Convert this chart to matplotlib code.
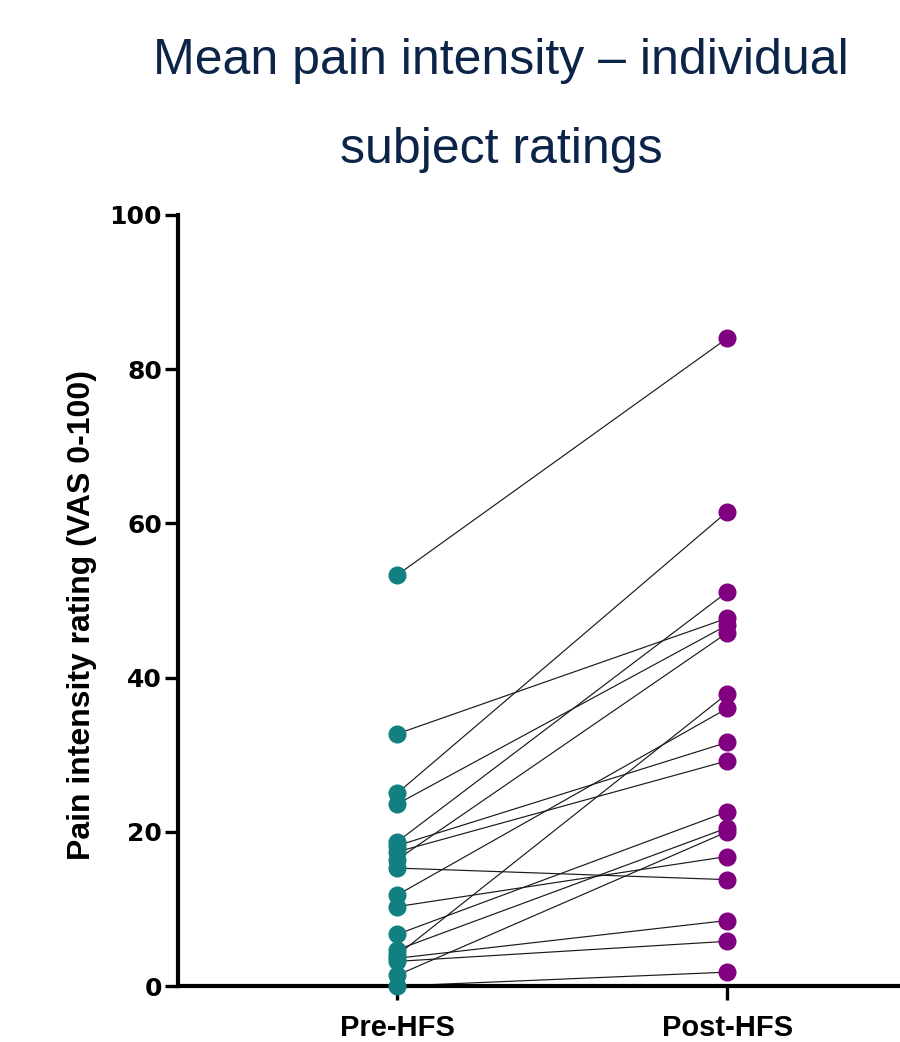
import matplotlib.pyplot as plt

groups = ["Pre-HFS", "Post-HFS"]

pre_hfs = [53.3, 32.7, 25.0, 23.6, 18.7, 18.2, 17.4, 16.4, 15.3,
           11.8, 10.3, 6.7, 4.7, 4.0, 3.6, 3.2, 1.4, 0.0]
post_hfs = [84.0, 47.7, 61.5, 46.8, 51.1, 31.6, 29.2, 45.8, 13.8,
            36.0, 16.8, 22.6, 20.5, 37.9, 8.5, 5.8, 20.0, 1.8]

y_ticks = [0, 20, 40, 60, 80, 100]

plt.rcParams['font.family'] = ['Liberation Sans', 'DejaVu Sans']

fig = plt.figure(figsize=(9, 10.42), dpi=100)
ax = fig.add_axes([0.1978, 0.0537, 0.8022, 0.74])

teal = "#128080"
purple = "#800080"

for pre, post in zip(pre_hfs, post_hfs):
    ax.plot([0, 1], [pre, post], color="#1a1a1a", linewidth=0.85, zorder=2, clip_on=False)

ax.plot([0] * len(pre_hfs), pre_hfs, "o", color=teal, markersize=12,
        linestyle="none", zorder=4, clip_on=False)
ax.plot([1] * len(post_hfs), post_hfs, "o", color=purple, markersize=12,
        linestyle="none", zorder=4, clip_on=False)

ax.set_xlim(-0.664, 1.524)
ax.set_ylim(0, 100)
ax.set_xticks([0, 1])
ax.set_xticklabels(groups, fontsize=21, fontweight="bold")
ax.set_yticks(y_ticks)
ax.set_yticklabels([str(t) for t in y_ticks], fontsize=18, fontweight="bold",
                   family="DejaVu Sans")

ax.spines["top"].set_visible(False)
ax.spines["right"].set_visible(False)
ax.spines["left"].set_linewidth(3)
ax.spines["bottom"].set_linewidth(3)
ax.spines["left"].set_zorder(3)
ax.spines["bottom"].set_zorder(3)
ax.tick_params(axis="y", length=9.5, width=2.4, pad=2)
ax.tick_params(axis="x", length=10, width=2.4, pad=10)

ax.set_ylabel("Pain intensity rating (VAS 0-100)", fontsize=23, fontweight="bold")
ax.yaxis.set_label_coords(-0.112, 0.481)

fig.text(0.557, 0.929, "Mean pain intensity \u2013 individual", ha="center", va="baseline",
         fontsize=36, color="#0b2447")
fig.text(0.557, 0.8436, "subject ratings", ha="center", va="baseline",
         fontsize=36, color="#0b2447")

plt.savefig("out.png", dpi=100)
